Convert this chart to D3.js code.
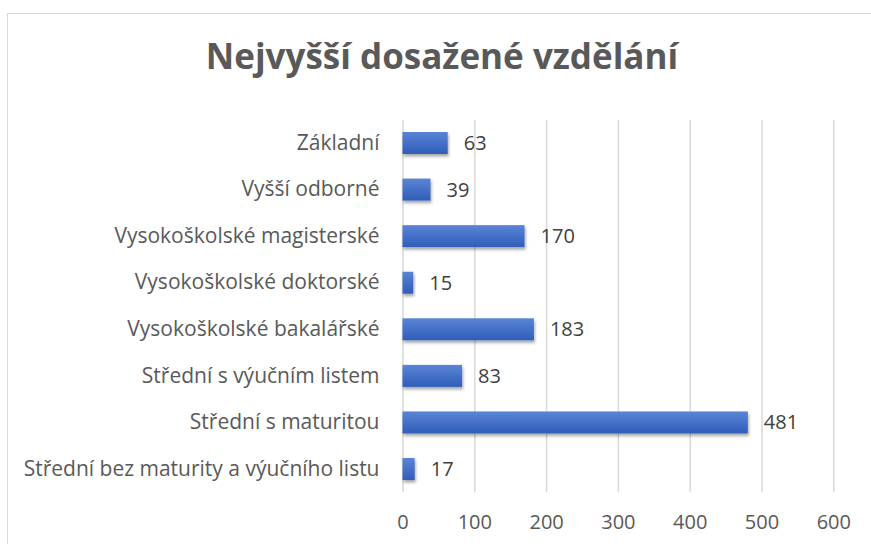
<!DOCTYPE html>
<html><head><meta charset="utf-8">
<script src="https://cdn.jsdelivr.net/npm/d3@7"></script>
<style>body{margin:0;background:#fff}svg{display:block}</style>
</head><body>
<script>
const title = "Nejvyšší dosažené vzdělání";
const categories = ["Základní","Vyšší odborné","Vysokoškolské magisterské","Vysokoškolské doktorské","Vysokoškolské bakalářské","Střední s výučním listem","Střední s maturitou","Střední bez maturity a výučního listu"];
const values = [63,39,170,15,183,83,481,17];
const ticks = [0,100,200,300,400,500,600];

const W=871,H=544;
const svg=d3.select("body").append("svg").attr("width",W).attr("height",H);
const defs=svg.append("defs");
const g=defs.append("linearGradient").attr("id","bg").attr("x1",0).attr("y1",0).attr("x2",0).attr("y2",1);
g.append("stop").attr("offset","0%").attr("stop-color","#5a84d6");
g.append("stop").attr("offset","100%").attr("stop-color","#2f5db9");
const f=defs.append("filter").attr("id","sh").attr("x","-10%").attr("y","-30%").attr("width","130%").attr("height","190%");
f.append("feDropShadow").attr("dx",1).attr("dy",2.5).attr("stdDeviation",1.5).attr("flood-color","#000").attr("flood-opacity",0.35);

svg.append("rect").attr("x",7.5).attr("y",13.5).attr("width",880).attr("height",560).attr("fill","#fff").attr("stroke","#d9d9d9").attr("stroke-width",1);

const x=d3.scaleLinear().domain([0,600]).range([402.5,833.3]);
const y=d3.scaleBand().domain(categories).range([119.7,492.3]).paddingInner(0.528).paddingOuter(0.264);

svg.append("text").attr("x",442).attr("y",69).attr("text-anchor","middle")
  .attr("font-family","Open Sans").attr("font-weight","bold").attr("font-size",35).attr("fill","#595959").text(title);

const xa=svg.append("g").attr("transform","translate(0,492.3)")
  .call(d3.axisBottom(x).tickValues(ticks).tickSize(-(492.3-119.7)).tickPadding(28));
xa.select(".domain").remove();
xa.selectAll("line").attr("stroke","#d9d9d9").attr("stroke-width",1.5);
xa.selectAll("text").attr("font-family","Open Sans").attr("font-size",20).attr("fill","#595959").attr("dy","0.45em");

const ya=svg.append("g").attr("transform","translate(402.5,0)")
  .call(d3.axisLeft(y).tickSize(0).tickPadding(23));
ya.select(".domain").remove();
ya.selectAll("text").attr("font-family","Open Sans").attr("font-size",21).attr("fill","#595959");

const data=categories.map((c,i)=>({c,v:values[i]}));
svg.append("g").selectAll("rect").data(data).join("rect")
  .attr("x",x(0)).attr("y",d=>y(d.c)).attr("width",d=>x(d.v)-x(0)).attr("height",y.bandwidth())
  .attr("fill","url(#bg)").attr("filter","url(#sh)");
svg.append("g").selectAll("text").data(data).join("text")
  .attr("x",d=>x(d.v)+16).attr("y",d=>y(d.c)+y.bandwidth()/2).attr("dy","0.35em")
  .attr("font-family","Open Sans").attr("font-size",20).attr("fill","#404040").text(d=>d.v);
</script>
</body></html>
